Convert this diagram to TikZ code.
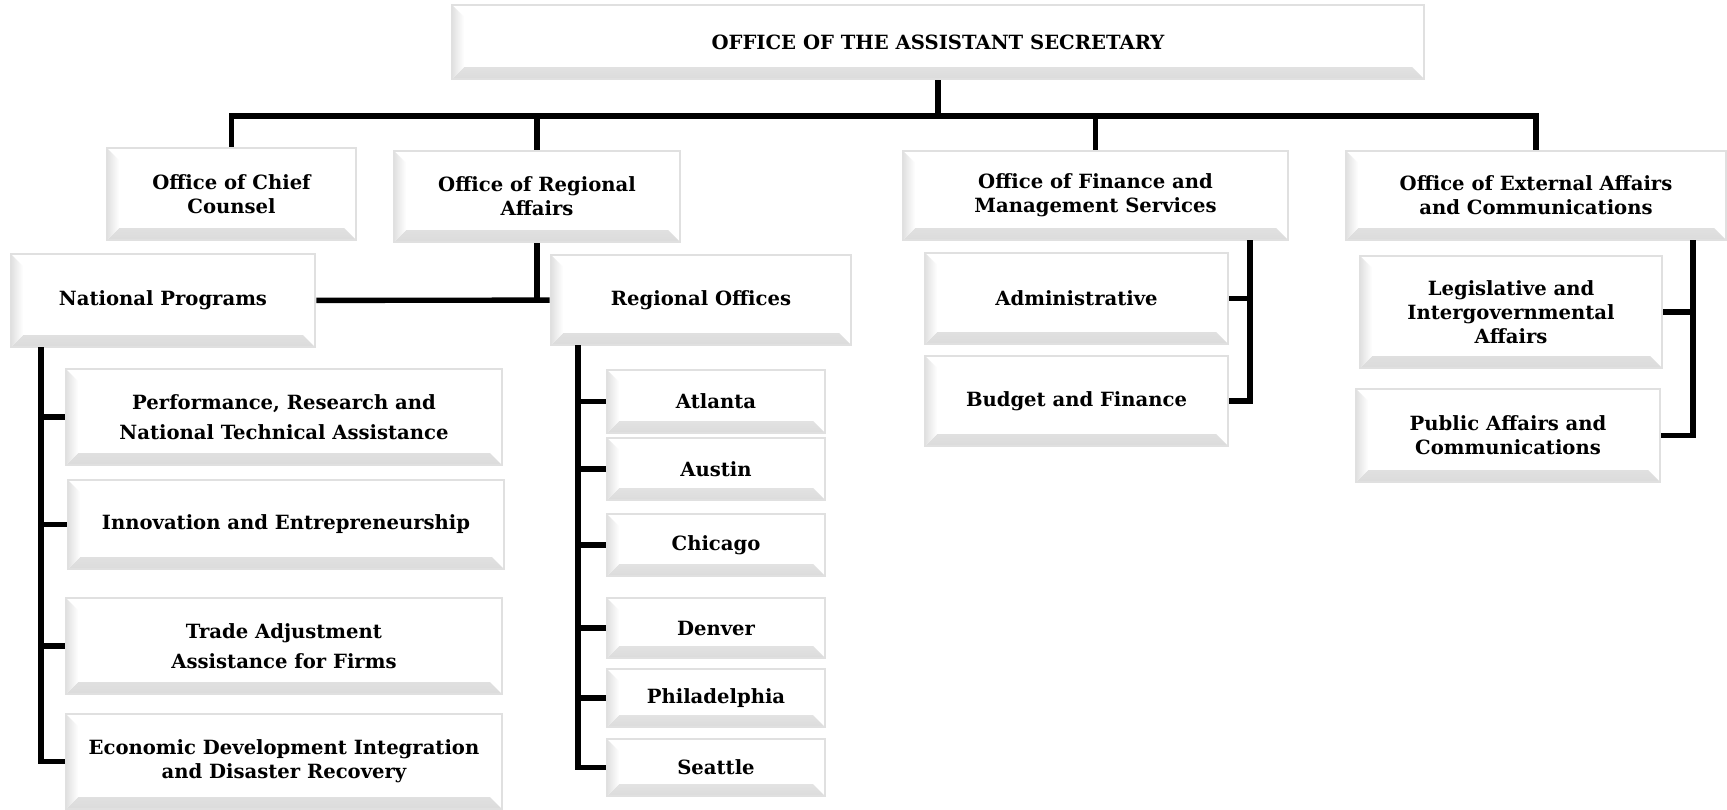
\documentclass[tikz,border=0pt]{standalone}
\usepackage{fontspec}
\setmainfont{DejaVu Serif}

\begin{document}
\begin{tikzpicture}[x=0.5pt, y=-0.5pt, line width=2.7pt,
    box/.style={rectangle, draw=black!12, line width=1.3pt, fill=white,
                inner sep=2pt, align=center, font=\bfseries\fontsize{9.8}{12}\selectfont,
                path picture={
                    \shade[top color=white, bottom color=black!14]
                        ([shift={(6pt,6pt)}]path picture bounding box.south west) -- ([shift={(-6pt,6pt)}]path picture bounding box.south east)
                        -- (path picture bounding box.south east) -- (path picture bounding box.south west) -- cycle;
                    \shade[left color=black!12, right color=white]
                        (path picture bounding box.north west) -- ([shift={(6pt,-6pt)}]path picture bounding box.north west)
                        -- ([shift={(6pt,6pt)}]path picture bounding box.south west) -- (path picture bounding box.south west) -- cycle;
                }},
    ]
                    \useasboundingbox (0,0) rectangle (1727,809);

                    \node [box, minimum width=486pt, minimum height=37pt](0) at (938,42){OFFICE OF THE ASSISTANT SECRETARY};

                    \node [box, minimum width=124.5pt, minimum height=46pt](11) at (231.5,194){Office of Chief\\Counsel};
                    \node [box, minimum width=143pt, minimum height=45.5pt](12) at (537,196.5){Office of Regional\\Affairs};
                    \node [box, minimum width=192.5pt, minimum height=44.5pt](13) at (1095.5,195.5){Office of Finance and\\Management Services};
                    \node [box, minimum width=190pt, minimum height=44.5pt](14) at (1536,195.5){Office of External Affairs\\and Communications};

                    \node [box, minimum width=152pt, minimum height=46.5pt](21) at (163,300.5){National Programs};
                    \node [box, minimum width=150pt, minimum height=45pt](22) at (701,300){Regional Offices};

                    % national programs
                    \node [box, minimum width=218pt, minimum height=48pt](31) at (284,417){Performance, Research and\\[3pt]National Technical Assistance};
                    \node [box, minimum width=218pt, minimum height=44.5pt](32) at (286,524.5){Innovation and Entrepreneurship};
                    \node [box, minimum width=218pt, minimum height=48pt](33) at (284,646){Trade Adjustment\\[3pt]Assistance for Firms};
                    \node [box, minimum width=218pt, minimum height=47.5pt](34) at (284,761.5){Economic Development Integration\\and Disaster Recovery};

                    % regional offices
                    \node [box, minimum width=109pt, minimum height=31.5pt](41) at (716,401.5){Atlanta};
                    \node [box, minimum width=109pt, minimum height=31pt](42) at (716,469){Austin};
                    \node [box, minimum width=109pt, minimum height=31pt](43) at (716,545){Chicago};
                    \node [box, minimum width=109pt, minimum height=30pt](44) at (716,628){Denver};
                    \node [box, minimum width=109pt, minimum height=29pt](45) at (716,698){Philadelphia};
                    \node [box, minimum width=109pt, minimum height=28.5pt](46) at (716,767.5){Seattle};

                    % finance
                    \node [box, minimum width=151.5pt, minimum height=45.5pt](51) at (1076.5,298.5){Administrative};
                    \node [box, minimum width=151.5pt, minimum height=45pt](52) at (1076.5,401){Budget and Finance};

                    % external affairs
                    \node [box, minimum width=151pt, minimum height=56pt](61) at (1511,312){Legislative and\\Intergovernmental\\Affairs};
                    \node [box, minimum width=152pt, minimum height=46.5pt](62) at (1508,435.5){Public Affairs and\\Communications};

                    \coordinate (bus) at (938,116);
                    \coordinate (n21) at (41,347);
                    \coordinate (n22) at (578,345);
                    \coordinate (n13) at (1250,240);
                    \coordinate (n14) at (1693,240);

                    \draw (0) -- (bus);
                    \foreach \c in {11,12,13,14}
                        \draw (bus) -| (\c.north);

                    \draw (12) -- (12 |- 21);
                    \draw (21) -- (22);

                    \foreach \c in {31,32,33,34}
                        \draw (n21) |- (\c.west);
                    \foreach \c in {41,42,43,44,45,46}
                        \draw (n22) |- (\c.west);
                    \foreach \c in {51,52}
                        \draw (n13) |- (\c.east);
                    \foreach \c in {61,62}
                        \draw (n14) |- (\c.east);

                \end{tikzpicture}
\end{document}
